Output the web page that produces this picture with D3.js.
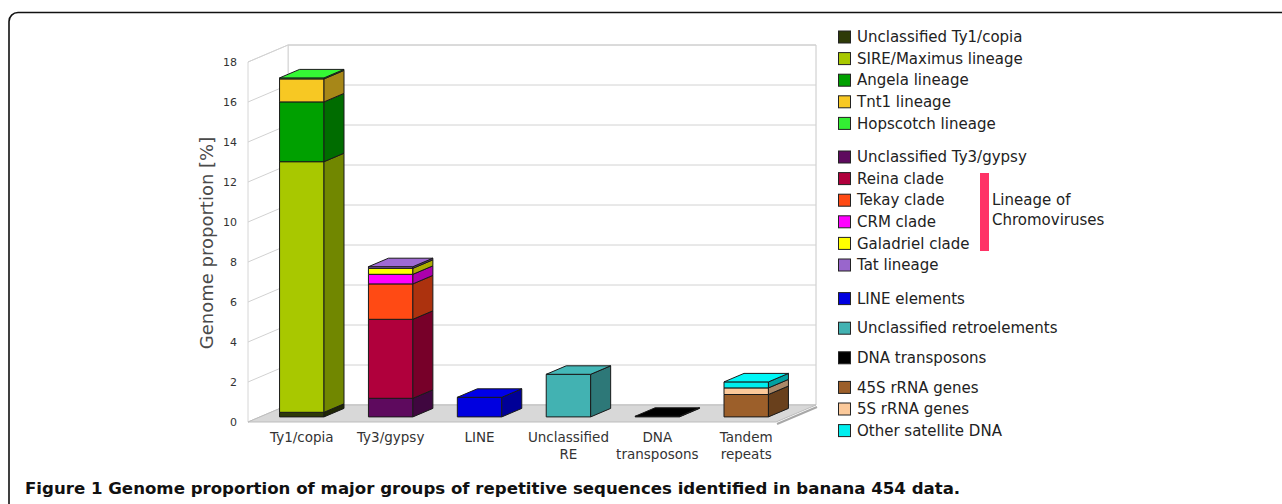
<!DOCTYPE html>
<html>
<head>
<meta charset="utf-8">
<script src="https://cdn.jsdelivr.net/npm/d3@7"></script>
<style>
  html, body { margin: 0; padding: 0; background: #fff; }
  svg { display: block; }
</style>
</head>
<body>
<svg id="chart" width="1282" height="504"></svg>
<script>
// ---- Data: genome proportion [%] per repeat group, stacked bottom to top ----
const categories = ["Ty1/copia", "Ty3/gypsy", "LINE", "Unclassified RE", "DNA transposons", "Tandem repeats"];
const categoryLabelLines = [["Ty1/copia"], ["Ty3/gypsy"], ["LINE"], ["Unclassified", "RE"], ["DNA", "transposons"], ["Tandem", "repeats"]];

const ty1copiaNames  = ["Unclassified Ty1/copia", "SIRE/Maximus lineage", "Angela lineage", "Tnt1 lineage", "Hopscotch lineage"];
const ty1copiaValues = [0.23, 12.53, 2.99, 1.15, 0.05];
const ty1copiaColors = ["#2e3a08", "#a8c800", "#00a000", "#f7c823", "#33ee33"];

const ty3gypsyNames  = ["Unclassified Ty3/gypsy", "Reina clade", "Tekay clade", "CRM clade", "Galadriel clade", "Tat lineage"];
const ty3gypsyValues = [0.93, 3.95, 1.77, 0.48, 0.30, 0.08];
const ty3gypsyColors = ["#5e0a5e", "#b0003c", "#ff4a14", "#ff00ff", "#ffff00", "#9966cc"];

const lineNames  = ["LINE elements"];
const lineValues = [0.98];
const lineColors = ["#0000e0"];

const unclassifiedReNames  = ["Unclassified retroelements"];
const unclassifiedReValues = [2.13];
const unclassifiedReColors = ["#42b2b2"];

const dnaTransposonNames  = ["DNA transposons"];
const dnaTransposonValues = [0.03];
const dnaTransposonColors = ["#000000"];

const tandemRepeatNames  = ["45S rRNA genes", "5S rRNA genes", "Other satellite DNA"];
const tandemRepeatValues = [1.12, 0.33, 0.30];
const tandemRepeatColors = ["#9c5f2a", "#fbc99a", "#00eeee"];

const yTicks = [0, 2, 4, 6, 8, 10, 12, 14, 16, 18];

const groups = [
  { names: ty1copiaNames, values: ty1copiaValues, colors: ty1copiaColors },
  { names: ty3gypsyNames, values: ty3gypsyValues, colors: ty3gypsyColors },
  { names: lineNames, values: lineValues, colors: lineColors },
  { names: unclassifiedReNames, values: unclassifiedReValues, colors: unclassifiedReColors },
  { names: dnaTransposonNames, values: dnaTransposonValues, colors: dnaTransposonColors },
  { names: tandemRepeatNames, values: tandemRepeatValues, colors: tandemRepeatColors }
];

// ---- Layout ----
const svg = d3.select("#chart");
const front = { left: 248, right: 776, top: 62, bottom: 422 };
const depth = { dx: 40, dy: -17 };      // offset from front plane to back wall
const barT = [0.3, 0.8];                 // bar occupies this slice of the depth

const x = d3.scaleBand().domain(categories).range([front.left, front.right])
  .paddingInner(0.5).paddingOuter(0.22);
const y = d3.scaleLinear().domain([0, 18]).range([front.bottom, front.top]);

const P = (px, v, t) => [px + depth.dx * t, y(v) + depth.dy * t];
const poly = pts => "M" + pts.map(p => p.join(",")).join("L") + "Z";

// Outer rounded frame
svg.append("rect")
  .attr("x", 9).attr("y", 12.5).attr("width", 1320).attr("height", 520)
  .attr("rx", 9).attr("fill", "none").attr("stroke", "#111").attr("stroke-width", 1.6);

const chart = svg.append("g");

// Back wall
const x0 = front.left, x1 = front.right;
chart.append("path")
  .attr("d", poly([P(x0, 0, 1), P(x1, 0, 1), P(x1, 18, 1), P(x0, 18, 1)]))
  .attr("fill", "#fff").attr("stroke", "#c8c8c8").attr("stroke-width", 1);
// Left wall
chart.append("path")
  .attr("d", poly([P(x0, 0, 0), P(x0, 0, 1), P(x0, 18, 1), P(x0, 18, 0)]))
  .attr("fill", "#fff").attr("stroke", "#d6d6d6").attr("stroke-width", 1);

// Gridlines on left wall and back wall
const grid = chart.append("g").attr("fill", "none").attr("stroke", "#d2d2d2").attr("stroke-width", 1);
yTicks.forEach(v => {
  grid.append("path").attr("d", "M" + [P(x0, v, 0), P(x0, v, 1), P(x1, v, 1)].map(p => p.join(",")).join("L"));
});

// Floor slab
chart.append("path")
  .attr("d", poly([P(x0, 0, 0), P(x1, 0, 0), P(x1, 0, 1), P(x0, 0, 1)]))
  .attr("fill", "#d8d8d8").attr("stroke", "#bdbdbd").attr("stroke-width", 1);
chart.append("path")
  .attr("d", "M" + [P(x1, 0, 0), P(x1, 0, 1)].map(p => [p[0] + 1, p[1] + 2].join(",")).join("L"))
  .attr("fill", "none").attr("stroke", "#a8a8a8").attr("stroke-width", 2);

// Y axis tick labels
chart.append("g").selectAll("text").data(yTicks).join("text")
  .attr("x", 237).attr("y", d => y(d)).attr("dy", "0.35em")
  .attr("text-anchor", "end")
  .attr("font-family", "DejaVu Sans").attr("font-size", 11).attr("fill", "#333")
  .text(d => d);

// Y axis title
svg.append("text")
  .attr("transform", "translate(213,243) rotate(-90)")
  .attr("text-anchor", "middle")
  .attr("font-family", "DejaVu Sans").attr("font-size", 18).attr("fill", "#4a4a4a")
  .text("Genome proportion [%]");

// Stacked 3D bars
const bw = x.bandwidth();
groups.forEach((g, i) => {
  const cat = categories[i];
  const bx0 = x(cat), bx1 = bx0 + bw;
  const gBar = chart.append("g").attr("stroke", "#1a1a1a").attr("stroke-width", 1).attr("stroke-linejoin", "round");
  let acc = 0;
  const segs = g.values.map((v, k) => {
    const s = { v0: acc, v1: acc + v, color: g.colors[k] };
    acc += v;
    return s;
  });
  segs.forEach(s => {
    gBar.append("path")
      .attr("d", poly([P(bx0, s.v0, barT[0]), P(bx1, s.v0, barT[0]), P(bx1, s.v1, barT[0]), P(bx0, s.v1, barT[0])]))
      .attr("fill", s.color);
    gBar.append("path")
      .attr("d", poly([P(bx1, s.v0, barT[0]), P(bx1, s.v0, barT[1]), P(bx1, s.v1, barT[1]), P(bx1, s.v1, barT[0])]))
      .attr("fill", d3.color(s.color).darker(1.1));
  });
  const topSeg = segs[segs.length - 1];
  gBar.append("path")
    .attr("d", poly([P(bx0, acc, barT[0]), P(bx1, acc, barT[0]), P(bx1, acc, barT[1]), P(bx0, acc, barT[1])]))
    .attr("fill", d3.color(topSeg.color).brighter(0.1));

  // Category label, centred under the front face
  const cx = P(bx0 + bw / 2, 0, barT[0])[0];
  const label = svg.append("text")
    .attr("text-anchor", "middle")
    .attr("font-family", "DejaVu Sans").attr("font-size", 13.5).attr("fill", "#333");
  categoryLabelLines[i].forEach((line, j) => {
    label.append("tspan").attr("x", cx).attr("y", 442 + j * 16.5).text(line);
  });
});

// Legend
const legend = svg.append("g");
let ly = 37;
groups.forEach((g, gi) => {
  g.names.forEach((name, k) => {
    legend.append("rect")
      .attr("x", 838.5).attr("y", ly - 6).attr("width", 12).attr("height", 12)
      .attr("fill", g.colors[k]).attr("stroke", "#222").attr("stroke-width", 1);
    legend.append("text")
      .attr("x", 857).attr("y", ly).attr("dy", "0.35em")
      .attr("font-family", "DejaVu Sans").attr("font-size", 15).attr("fill", "#222")
      .text(name);
    ly += 21.6;
  });
  ly += gi < 2 ? 12 : 8;
});

// Bracket for chromovirus clades
legend.append("rect")
  .attr("x", 980).attr("y", 173).attr("width", 9).attr("height", 78).attr("fill", "#ff3366");
const chromo = legend.append("text")
  .attr("font-family", "DejaVu Sans").attr("font-size", 15).attr("fill", "#222");
chromo.append("tspan").attr("x", 992).attr("y", 200).attr("dy", "0.35em").text("Lineage of");
chromo.append("tspan").attr("x", 992).attr("y", 220).attr("dy", "0.35em").text("Chromoviruses");

// Figure caption
svg.append("text")
  .attr("x", 25).attr("y", 494)
  .attr("font-family", "DejaVu Sans").attr("font-weight", "bold").attr("font-size", 16.6).attr("fill", "#111")
  .text("Figure 1 Genome proportion of major groups of repetitive sequences identified in banana 454 data.");
</script>
</body>
</html>
